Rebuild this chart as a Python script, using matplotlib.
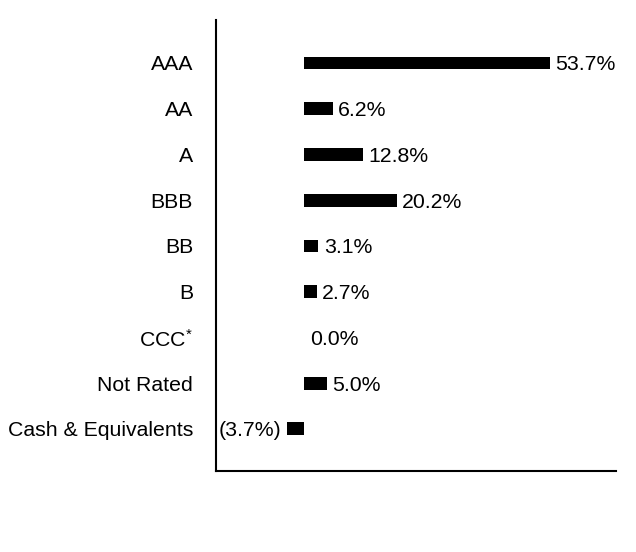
"""
Credit quality allocation - horizontal bar chart
"""

import matplotlib
matplotlib.use("Agg")
import matplotlib.pyplot as plt

plt.rcParams['font.family'] = ['Liberation Sans', 'DejaVu Sans']
plt.rcParams['mathtext.default'] = 'regular'

# Data
categories = ['AAA', 'AA', 'A', 'BBB', 'BB', 'B', 'CCC$^{*}$', 'Not Rated', 'Cash & Equivalents']
values = [53.7, 6.2, 12.8, 20.2, 3.1, 2.7, 0.0, 5.0, -3.7]

FS = 15.3


def fmt(v):
    return f"({abs(v):.1f}%)" if v < 0 else f"{v:.1f}%"


def render(output_path='out.png'):
    fig = plt.figure(figsize=(6.36, 5.52), dpi=100, facecolor='white')
    ax = fig.add_axes([0.3396, 0.146, 0.6289, 0.8178])

    y = list(range(len(categories)))
    ax.barh(y, values, height=0.28, color='black')

    # value labels beside each bar
    for yi, v in zip(y, values):
        if v < 0:
            ax.annotate(fmt(v), (v, yi), xytext=(-4.3, 0), textcoords='offset points',
                        ha='right', va='center_baseline', fontsize=FS)
        else:
            ax.annotate(fmt(v), (v, yi), xytext=(4, 0), textcoords='offset points',
                        ha='left', va='center_baseline', fontsize=FS)

    ax.set_yticks(y)
    ax.set_yticklabels(categories, fontsize=FS)
    ax.tick_params(axis='y', length=0, pad=16.5)
    ax.set_xticks([])
    ax.set_xlim(-19.3, 68.2)
    ax.set_ylim(len(categories) - 1 + 0.93, -0.94)

    for side in ['top', 'right']:
        ax.spines[side].set_visible(False)
    for side in ['left', 'bottom']:
        ax.spines[side].set_linewidth(1.5)

    plt.savefig(output_path, dpi=100, facecolor='white')
    plt.close()


if __name__ == "__main__":
    render()
